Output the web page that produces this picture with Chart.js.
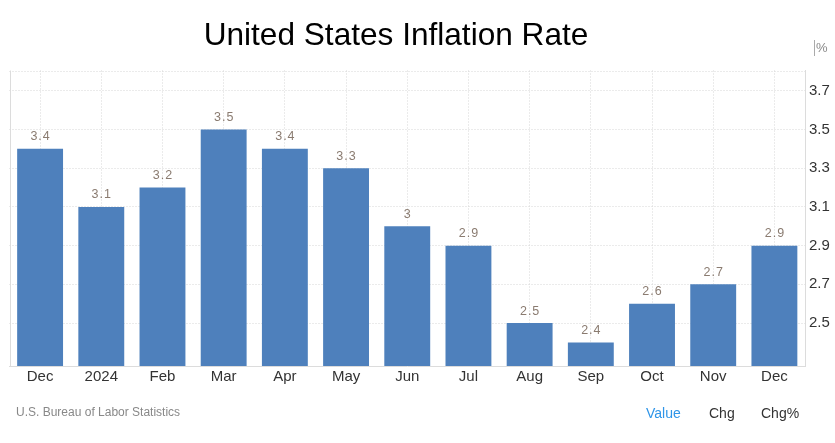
<!DOCTYPE html>
<html>
<head>
<meta charset="utf-8">
<script src="https://cdn.jsdelivr.net/npm/chart.js@4"></script>
<style>
  html, body { margin:0; padding:0; background:#fff; }
  body { width:835px; height:443px; position:relative; overflow:hidden; font-family:"Liberation Sans", Arial, sans-serif; }
  #wrap { position:absolute; left:0; top:0; width:835px; height:443px; }
  #title { position:absolute; left:396px; top:14px; transform:translateX(-50%); white-space:nowrap; font-size:31.6px; color:#000; line-height:40px; }
  #unit { position:absolute; left:814px; top:40px; font-size:13px; color:#8a8a8a; line-height:16px; border-left:1px solid #aaa; padding-left:1px; }
  #source { position:absolute; left:16px; top:404px; font-size:12px; color:#888; line-height:16px; }
  .btn { position:absolute; top:404px; font-size:14px; line-height:18px; color:#333; }
</style>
</head>
<body>
<div id="wrap"><canvas id="c" width="835" height="443"></canvas></div>
<div id="title">United States Inflation Rate</div>
<div id="unit">%</div>
<div id="source">U.S. Bureau of Labor Statistics</div>
<div class="btn" style="left:646px;color:#2f95e8;">Value</div>
<div class="btn" style="left:709px;">Chg</div>
<div class="btn" style="left:761px;">Chg%</div>
<script>
const categories = ['Dec','2024','Feb','Mar','Apr','May','Jun','Jul','Aug','Sep','Oct','Nov','Dec'];
const inflationValues = [3.4, 3.1, 3.2, 3.5, 3.4, 3.3, 3.0, 2.9, 2.5, 2.4, 2.6, 2.7, 2.9];
const yTickValues = [2.5, 2.7, 2.9, 3.1, 3.3, 3.5, 3.7];

const FONT = '"Liberation Sans", Arial, sans-serif';

const frame = {
  id: 'frame',
  beforeDatasetsDraw(chart) {
    const {ctx, chartArea: a} = chart;
    ctx.save();
    ctx.strokeStyle = '#d6d6d6';
    ctx.lineWidth = 1;
    ctx.setLineDash([1, 2]);
    ctx.beginPath();
    ctx.moveTo(a.left, Math.round(a.top) + 0.5);
    ctx.lineTo(a.right, Math.round(a.top) + 0.5);
    ctx.stroke();
    ctx.setLineDash([]);
    ctx.strokeStyle = '#dcdcdc';
    ctx.beginPath();
    ctx.moveTo(Math.round(a.left) + 0.5, a.top);
    ctx.lineTo(Math.round(a.left) + 0.5, a.bottom);
    ctx.stroke();
    ctx.restore();
  }
};

const valueLabels = {
  id: 'valueLabels',
  afterDatasetsDraw(chart) {
    const {ctx} = chart;
    const meta = chart.getDatasetMeta(0);
    ctx.save();
    ctx.font = '12.5px ' + FONT;
    ctx.fillStyle = '#8a7b70';
    ctx.textAlign = 'center';
    ctx.textBaseline = 'alphabetic';
    if ('letterSpacing' in ctx) ctx.letterSpacing = '1px';
    meta.data.forEach((bar, i) => {
      const v = chart.data.datasets[0].data[i];
      ctx.fillText(String(v), bar.x + 0.5, bar.y - 8.5);
    });
    ctx.restore();
  }
};

new Chart(document.getElementById('c'), {
  type: 'bar',
  data: {
    labels: categories,
    datasets: [{
      data: inflationValues,
      backgroundColor: '#4e80bc',
      borderWidth: 0,
      categoryPercentage: 1,
      barPercentage: 0.75
    }]
  },
  options: {
    responsive: false,
    animation: false,
    events: [],
    layout: { padding: { left: 9.5, top: 70.5, right: 0, bottom: 0 } },
    plugins: { legend: { display: false }, tooltip: { enabled: false }, title: { display: false } },
    scales: {
      x: {
        offset: true,
        grid: { offset: false, color: '#d6d6d6', drawTicks: false },
        border: { color: '#dcdcdc', dash: [1,2] },
        ticks: { color: '#333', font: { size: 15, family: FONT }, padding: 2, maxRotation: 0, autoSkip: false },
        afterFit(scale) { scale.height = 77; }
      },
      y: {
        position: 'right',
        min: 2.278,
        max: 3.805,
        grid: { color: '#d6d6d6', drawTicks: false },
        border: { color: '#dcdcdc', dash: [1,2] },
        ticks: { color: '#333', font: { size: 15, family: FONT }, padding: 4 },
        afterBuildTicks(scale) { scale.ticks = yTickValues.map(v => ({ value: v })); },
        afterFit(scale) { scale.width = 30; }
      }
    }
  },
  plugins: [frame, valueLabels]
});
</script>
</body>
</html>
